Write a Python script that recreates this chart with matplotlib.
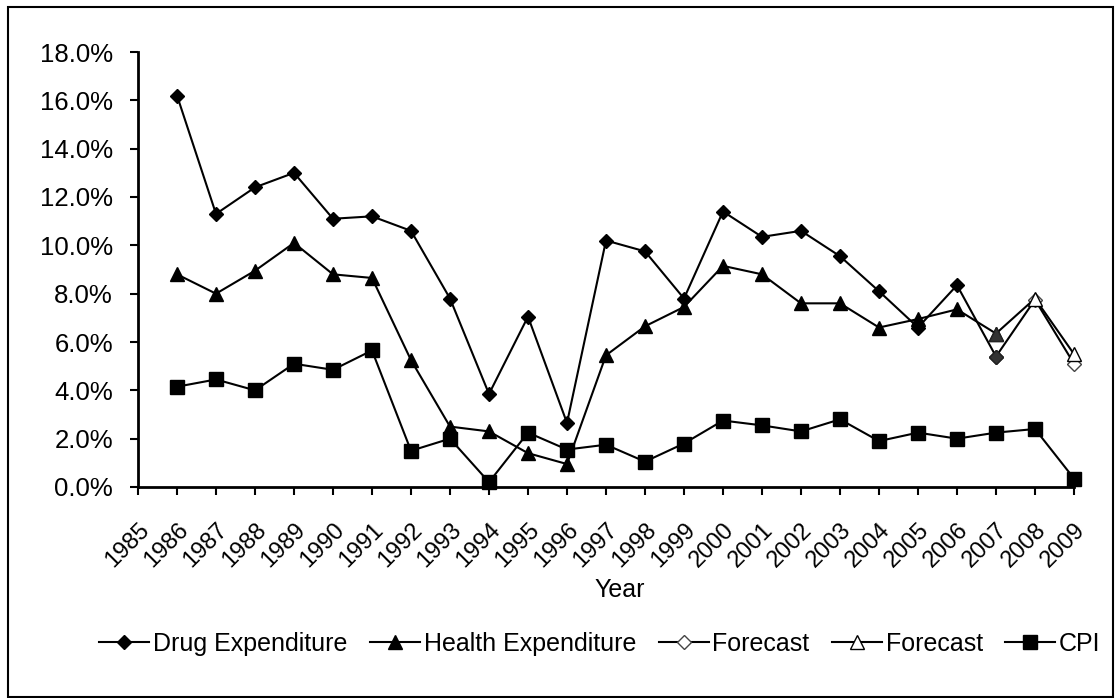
import matplotlib
matplotlib.use("Agg")
import matplotlib.pyplot as plt
from matplotlib.patches import Rectangle
from matplotlib.ticker import PercentFormatter

years = [str(y) for y in range(1985, 2010)]

drug_years = list(range(1986, 2008))
drug = [16.2, 11.3, 12.4, 13.0, 11.1, 11.2, 10.6, 7.8, 3.85, 7.05, 2.65, 10.2,
        9.75, 7.8, 11.4, 10.35, 10.6, 9.55, 8.1, 6.6, 8.35, 5.4]
health = [8.8, 8.0, 8.95, 10.1, 8.8, 8.65, 5.25, 2.5, 2.3, 1.4, 0.95, 5.45,
          6.65, 7.45, 9.15, 8.8, 7.6, 7.6, 6.6, 6.95, 7.35, 6.35]
fc_years = [2007, 2008, 2009]
drug_fc = [5.4, 7.75, 5.1]
health_fc = [6.35, 7.8, 5.5]
cpi_years = list(range(1986, 2010))
cpi = [4.15, 4.45, 4.0, 5.1, 4.85, 5.65, 1.5, 2.0, 0.2, 2.25, 1.55, 1.75,
       1.05, 1.8, 2.75, 2.55, 2.3, 2.8, 1.9, 2.25, 2.0, 2.25, 2.4, 0.35]

plt.rcParams['font.family'] = ['Liberation Sans', 'DejaVu Sans']
FS = 18

fig = plt.figure(figsize=(11.2, 6.98), dpi=100)
ax = fig.add_axes([138/1120, 1-487/698, (1074-138)/1120, (487-52)/698])

def idx(ys):
    return [y - 1985 for y in ys]

lw = 1.5
ax.plot(idx(drug_years), drug, color='black', lw=lw, marker='D', ms=7.5,
        mfc='black', mec='black', clip_on=False, zorder=3, label='Drug Expenditure')
ax.plot(idx(drug_years), health, color='black', lw=lw, marker='^', ms=10,
        mfc='black', mec='black', clip_on=False, zorder=3, label='Health Expenditure')
ax.plot(idx(fc_years), drug_fc, color='black', lw=lw, marker='D', ms=7,
        mfc='white', mec='#444444', markevery=[1, 2], clip_on=False, zorder=2,
        label='Forecast')
ax.plot(idx(fc_years), health_fc, color='black', lw=lw, marker='^', ms=10,
        mfc='white', mec='black', markevery=[1, 2], clip_on=False, zorder=2,
        label='Forecast')
ax.plot(idx(cpi_years), cpi, color='black', lw=lw, marker='s', ms=10.5,
        mfc='black', mec='black', clip_on=False, zorder=3, label='CPI')
# 2007 transition markers (dark grey)
ax.plot(idx([2007]), [drug[-1]], ls='none', marker='D', ms=7.5, mfc='#333333',
        mec='#222222', zorder=4, clip_on=False)
ax.plot(idx([2007]), [health[-1]], ls='none', marker='^', ms=10, mfc='#333333',
        mec='#222222', zorder=4, clip_on=False)

ax.set_xlim(0, 24)
ax.set_ylim(0, 18)
ax.set_yticks([0, 2, 4, 6, 8, 10, 12, 14, 16, 18])
ax.yaxis.set_major_formatter(PercentFormatter(decimals=1))
ax.set_xticks(range(len(years)))
ax.set_xticklabels(years, rotation=45, ha='right', rotation_mode='anchor')
ax.tick_params(axis='both', length=6, width=1.5, direction='out',
               color='black', labelcolor='black')
ax.tick_params(axis='y', pad=12, labelsize=18.5)
ax.tick_params(axis='x', pad=17, labelsize=17)
for s in ['top', 'right']:
    ax.spines[s].set_visible(False)
for s in ['left', 'bottom']:
    ax.spines[s].set_linewidth(2)
ax.set_xlabel('Year', fontsize=FS)
ax.xaxis.set_label_coords(482/936, -(590-487)/435, transform=ax.transAxes)
ax.xaxis.label.set_va('center')

fig.legend(loc='center', bbox_to_anchor=(600/1120, 1-644/698), ncol=5,
           frameon=False, fontsize=FS, handlelength=2.0, columnspacing=0.9,
           handletextpad=0.15, borderpad=0, borderaxespad=0)

fig.patches.append(Rectangle((8/1120, 1-697/698), (1113-8)/1120, (697-7)/698,
                             transform=fig.transFigure, fill=False,
                             edgecolor='black', lw=1.5))

fig.savefig('out.png', dpi=100)
